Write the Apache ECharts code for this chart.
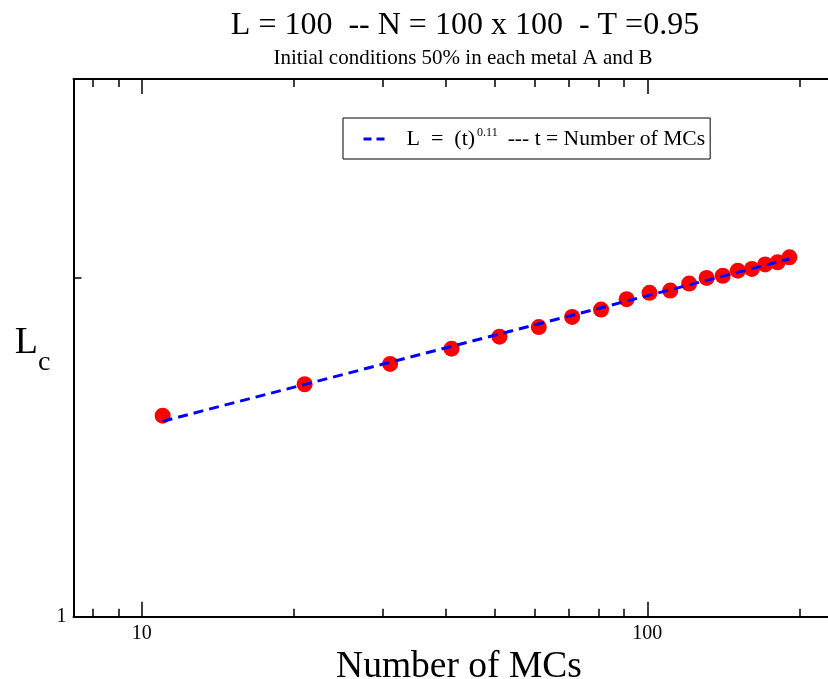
<!DOCTYPE html>
<html><head><meta charset="utf-8">
<script src="https://cdn.jsdelivr.net/npm/echarts@6/dist/echarts.min.js"></script>
<style>html,body{margin:0;padding:0;background:#fff}#c{width:828px;height:679px}</style>
</head><body><div id="c"></div>
<script>
// Data
const mcSteps = [11, 21, 31, 41, 51, 61, 71, 81, 91, 101, 111, 121, 131, 141, 151, 161, 171, 181, 191];
const lengthValues = [1.508, 1.608, 1.676, 1.729, 1.772, 1.807, 1.845, 1.873, 1.913, 1.938, 1.947, 1.975, 1.998, 2.007, 2.028, 2.035, 2.054, 2.063, 2.084];
const fitT = [11, 191];
const fitL = [1.491, 2.077];
const xMajorTicks = [10, 100];
const xMinorTicks = [8, 9, 20, 30, 40, 50, 60, 70, 80, 90, 200];
const yLabelTicks = [1];
const yMinorTicks = [2];

const FONT = 'Liberation Serif';
const X_MIN = 7.33, X_MAX = 230.3, Y_MIN = 1, Y_MAX = 3;

const chart = echarts.init(document.getElementById('c'), null, {renderer: 'canvas'});

function xAx(pos, ticks, len, withLine, withLabel) {
  return {
    type: 'log', logBase: 10, position: pos, min: X_MIN, max: X_MAX, gridIndex: 0,
    axisLine: {show: withLine, lineStyle: {color: '#000', width: 2}},
    axisTick: {show: true, inside: true, length: len, customValues: ticks, lineStyle: {color: '#000', width: 1.5}},
    axisLabel: withLabel ? {show: true, customValues: ticks, margin: 7, color: '#000', fontFamily: FONT, fontSize: 20} : {show: false},
    splitLine: {show: false}, minorTick: {show: false}
  };
}

const xAxes = [
  Object.assign(xAx('bottom', xMajorTicks, 15, true, true), {
    name: 'Number of MCs', nameLocation: 'middle', nameGap: 17,
    nameTextStyle: {fontFamily: FONT, fontSize: 37.5, color: '#000', padding: [0, 0, 0, 14]}
  }),
  xAx('bottom', xMinorTicks, 8, false, false),
  xAx('top', xMajorTicks, 15, true, false),
  xAx('top', xMinorTicks, 8, false, false)
];

const yAxes = [
  {
    type: 'log', logBase: 10, position: 'left', min: Y_MIN, max: Y_MAX,
    axisLine: {show: true, lineStyle: {color: '#000', width: 2}},
    axisTick: {show: true, inside: true, length: 8, customValues: yMinorTicks, lineStyle: {color: '#000', width: 1.5}},
    axisLabel: {show: true, customValues: yLabelTicks, margin: 7, color: '#000', fontFamily: FONT, fontSize: 20},
    splitLine: {show: false},
    name: '{l|L}{c|c}', nameLocation: 'middle', nameGap: 23, nameRotate: 0,
    nameTextStyle: {fontFamily: FONT, color: '#000', padding: [0, 0, 10, 0], rich: {
      l: {fontFamily: FONT, fontSize: 38, color: '#000', lineHeight: 40},
      c: {fontFamily: FONT, fontSize: 28, color: '#000', verticalAlign: 'bottom', lineHeight: 20, padding: [0, 0, -14, 0]}
    }}
  }
];

chart.setOption({
  animation: false,
  backgroundColor: '#fff',
  title: [
    {text: 'L = 100  -- N = 100 x 100  - T =0.95', left: 460, top: 5, textAlign: 'center',
     textStyle: {fontFamily: FONT, fontSize: 32, fontWeight: 'normal', color: '#000'}},
    {text: 'Initial conditions 50% in each metal A and B', left: 458, top: 43, textAlign: 'center',
     textStyle: {fontFamily: FONT, fontSize: 21, fontWeight: 'normal', color: '#000'}}
  ],
  grid: {left: 73.5, top: 79, width: 757, height: 537.7, containLabel: false, outerBoundsMode: 'none'},
  xAxis: xAxes,
  yAxis: yAxes,
  legend: {
    data: ['fit'], left: 343, top: 118, itemWidth: 21, itemHeight: 14,
    borderColor: '#000', borderWidth: 1, padding: [9, 5, 9, 19],
    lineStyle: {type: [8, 5], width: 3},
    itemStyle: {opacity: 0},
    formatter: () => '{a|L  =  (t)}{s|0.11}{b|--- t = Number of MCs}',
    textStyle: {fontFamily: FONT, color: '#000', fontSize: 22, rich: {
      a: {fontFamily: FONT, fontSize: 22, color: '#000', lineHeight: 24, padding: [0, 0, 0, 17]},
      s: {fontFamily: FONT, fontSize: 12, color: '#000', lineHeight: 14, verticalAlign: 'top', padding: [0, 0, 0, 2]},
      b: {fontFamily: FONT, fontSize: 21.6, color: '#000', lineHeight: 24, padding: [0, 0, 0, 10]}
    }}
  },
  series: [
    {
      name: 'data', type: 'scatter', xAxisIndex: 0, yAxisIndex: 0,
      data: mcSteps.map((t, i) => [t, lengthValues[i]]),
      symbol: 'circle', symbolSize: 16, itemStyle: {color: '#ff0000', opacity: 1}, z: 2
    },
    {
      name: 'fit', type: 'line', xAxisIndex: 0, yAxisIndex: 0,
      data: fitT.map((t, i) => [t, fitL[i]]),
      showSymbol: false, symbol: 'none',
      lineStyle: {color: '#0000ff', width: 3, type: [10, 6]},
      itemStyle: {color: '#0000ff'}, z: 3
    }
  ]
});
</script></body></html>
